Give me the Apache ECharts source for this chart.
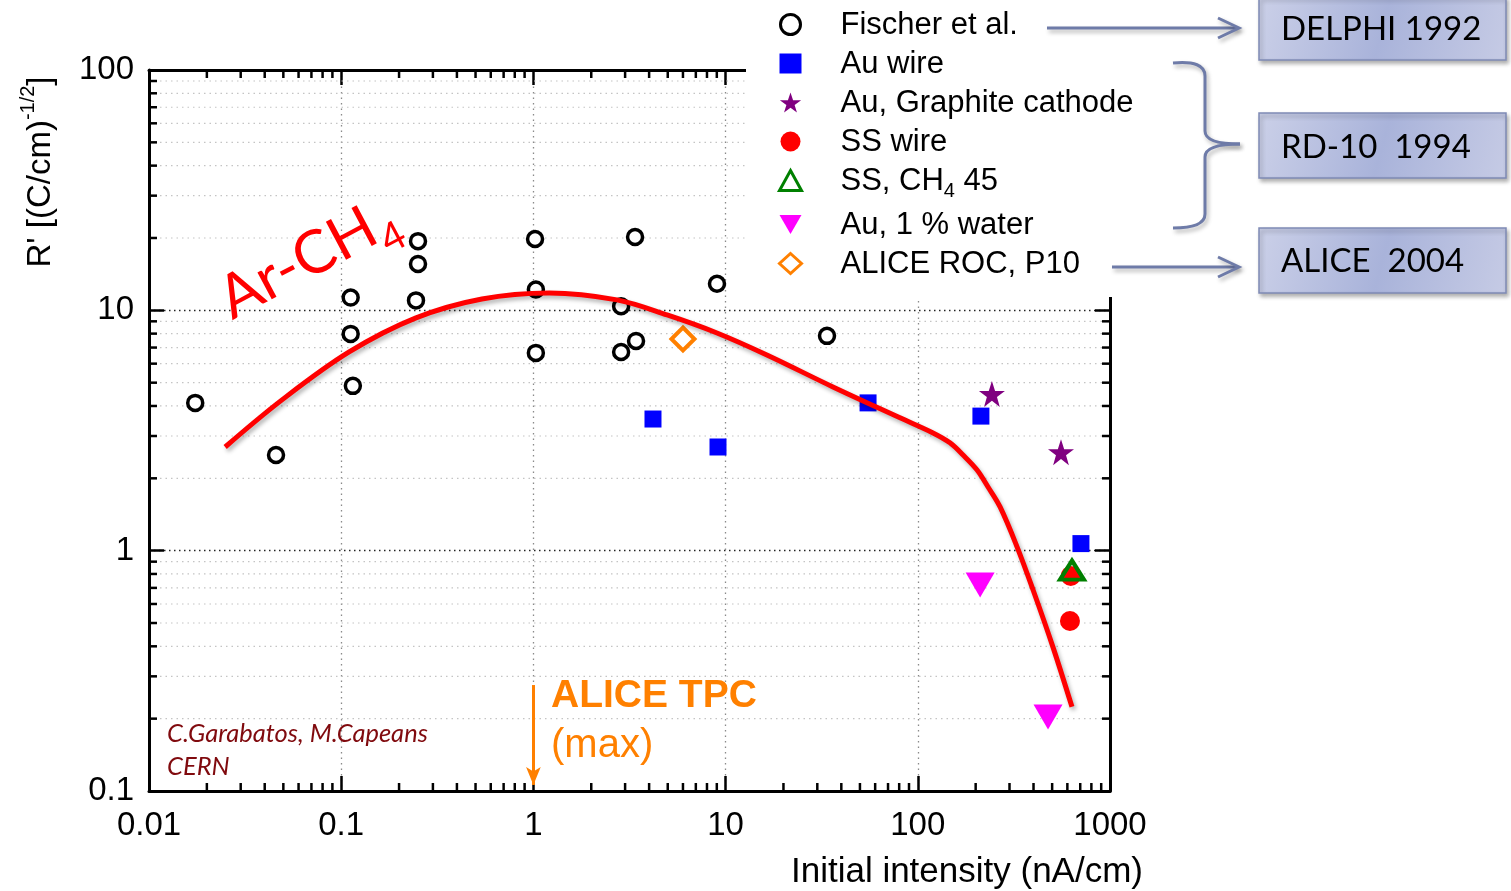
<!DOCTYPE html>
<html><head><meta charset="utf-8">
<script src="https://cdn.jsdelivr.net/npm/echarts@6/dist/echarts.min.js"></script>
<style>html,body{margin:0;padding:0;background:#fff}#c{width:1511px;height:891px}</style>
</head><body><div id="c"></div>
<script>
// ---- data ----
const xTickLabels = ['0.01', '0.1', '1', '10', '100', '1000'];
const yTickLabels = ['0.1', '1', '10', '100'];
const xMinor = [0.02,0.03,0.04,0.05,0.06,0.07,0.08,0.09,
                0.2,0.3,0.4,0.5,0.6,0.7,0.8,0.9,
                2,3,4,5,6,7,8,9,
                20,30,40,50,60,70,80,90,
                200,300,400,500,600,700,800,900];
const yMinor = [0.2,0.3,0.4,0.5,0.6,0.7,0.8,0.9,
                2,3,4,5,6,7,8,9,
                20,30,40,50,60,70,80,90];
const fischer = [[0.0174,4.12],[0.0458,2.50],[0.112,11.3],[0.112,7.98],[0.115,4.85],
                 [0.251,19.4],[0.251,15.6],[0.245,11.0],[1.02,19.8],[1.03,12.2],[1.03,6.65],
                 [3.38,20.2],[2.86,10.4],[2.86,6.71],[3.42,7.46],[9.02,12.9],[33.7,7.83]];
const auWire = [[4.19,3.53],[9.13,2.70],[55.1,4.12],[213,3.63],[706,1.07]];
const auGraphite = [[243,4.49],[556,2.57]];
const ssWire = [[619,0.51],[625,0.785]];
const ssCH4 = [[634,0.83]];
const auWater = [[211,0.72],[476,0.203]];
const aliceRoc = [[6.0,7.6]];
const arCH4Fit = [[0.0249,2.70],[0.0492,4.24],[0.110,6.71],[0.245,9.30],[0.540,11.15],
                  [1.21,11.81],[2.72,11.05],[4.96,9.57],[9.02,8.05],[16.4,6.52],[36.2,4.80],
                  [80.8,3.57],[120,3.09],[147,2.81],[172,2.50],[203,2.17],[232,1.84],
                  [268,1.52],[328,1.04],[398,0.686],[505,0.397],[634,0.224]];
const aliceTpcArrow = [[1, 0.276], [1, 0.106]];
const seriesNames = ['Fischer et al.', 'Au wire', 'Au, Graphite cathode', 'SS wire', 'SS, CH4 45', 'Au, 1 % water', 'ALICE ROC, P10'];

// ---- chart ----
const SANS = 'Liberation Sans, Arial, sans-serif';
const GILL = 'Lato, sans-serif';
const STAR = 'path://M50,0 L61.8,35.1 L98.5,35.1 L68.8,56.8 L79.4,91.2 L50,70 L20.6,91.2 L31.2,56.8 L1.5,35.1 L38.2,35.1 Z';
const DOWN_TRI = 'path://M0,0 L100,0 L50,86 Z';
const chart = echarts.init(document.getElementById('c'), null, {renderer: 'canvas'});

function xLab(v) { return xTickLabels[Math.round(Math.log10(v)) + 2]; }
function yLab(v) { return yTickLabels[Math.round(Math.log10(v)) + 1]; }

const axisLineStyle = {color: '#000', width: 3};
const tickStyle = {color: '#000', width: 2.5};

function renderYMinor(params, api) {
  const cs = params.coordSys;
  const py = api.coord([1, api.value(1)])[1];
  return {type: 'group', children: [
    {type: 'line', shape: {x1: cs.x, y1: py, x2: cs.x + cs.width, y2: py}, style: {stroke: '#c4c4c4', lineWidth: 1.2, lineDash: [1.5, 4]}},
    {type: 'line', shape: {x1: cs.x, y1: py, x2: cs.x + 8, y2: py}, style: {stroke: '#000', lineWidth: 2.5}},
    {type: 'line', shape: {x1: cs.x + cs.width, y1: py, x2: cs.x + cs.width - 8, y2: py}, style: {stroke: '#000', lineWidth: 2.5}}
  ]};
}
function renderXMinor(params, api) {
  const cs = params.coordSys;
  const px = api.coord([api.value(0), 1])[0];
  return {type: 'group', children: [
    {type: 'line', shape: {x1: px, y1: cs.y + cs.height, x2: px, y2: cs.y + cs.height - 8}, style: {stroke: '#000', lineWidth: 2.5}},
    {type: 'line', shape: {x1: px, y1: cs.y, x2: px, y2: cs.y + 8}, style: {stroke: '#000', lineWidth: 2.5}}
  ]};
}

const slate = '#6e7ba8';
const shadow = {shadowColor: 'rgba(0,0,0,0.3)', shadowBlur: 4, shadowOffsetX: 2, shadowOffsetY: 3};
const boxFill = new echarts.graphic.LinearGradient(0, 0, 1, 1, [
  {offset: 0, color: '#cbd0e8'}, {offset: 0.5, color: '#a9b3da'}, {offset: 1, color: '#c6cbe5'}]);

function box(y, h, label, ty) {
  return [
    {type: 'rect', z: 20, shape: {x: 1259, y: y, width: 247, height: h},
     style: Object.assign({fill: boxFill, stroke: '#7f8ab5', lineWidth: 1.5}, shadow)},
    {type: 'text', z: 21, x: 1281, y: ty, style: {text: label, font: '33px ' + GILL, fill: '#000', align: 'left', verticalAlign: 'middle'}}
  ];
}
function stroke() { return Object.assign({stroke: slate, lineWidth: 3, fill: null}, shadow); }

const option = {
  animation: false,
  grid: {left: 149, right: 401, top: 70, bottom: 100, containLabel: false},
  legend: {
    orient: 'vertical', left: 778, top: 9, padding: 0, itemGap: 7.5,
    itemWidth: 22, itemHeight: 20, z: 10, selectedMode: false,
    data: [
      {name: seriesNames[0], itemStyle: {borderWidth: 3}},
      {name: seriesNames[1], itemStyle: {borderWidth: 0}},
      {name: seriesNames[2], itemStyle: {borderWidth: 0}},
      {name: seriesNames[3], itemStyle: {borderWidth: 0}},
      {name: seriesNames[4], itemStyle: {borderWidth: 3}},
      {name: seriesNames[5], icon: DOWN_TRI, itemStyle: {borderWidth: 0}},
      {name: seriesNames[6], itemStyle: {borderWidth: 3}}
    ],
    formatter: function (name) {
      if (name === 'SS, CH4 45') return '{g|}{n|SS, CH}{s|4}{n| 45}';
      return '{g|}{n|' + name + '}';
    },
    textStyle: {
      fontFamily: SANS, fontSize: 31, color: '#000',
      rich: {
        g: {width: 34, lineHeight: 30},
        n: {fontFamily: SANS, fontSize: 31, color: '#000', lineHeight: 30, verticalAlign: 'top'},
        s: {fontFamily: SANS, fontSize: 20, color: '#000', lineHeight: 30, verticalAlign: 'top', padding: [16, 0, 0, 0]}
      }
    }
  },
  xAxis: [
    {type: 'log', logBase: 10, min: 0.01, max: 1000, position: 'bottom',
     axisLine: {show: true, lineStyle: axisLineStyle},
     axisTick: {show: true, inside: true, length: 15, lineStyle: tickStyle},
     axisLabel: {formatter: xLab, fontFamily: SANS, fontSize: 33, color: '#000', margin: 18},
     splitLine: {show: true, lineStyle: {color: '#8a8a8a', width: 1.3, type: [1.5, 4]}}},
    {type: 'log', logBase: 10, min: 0.01, max: 1000, position: 'top',
     axisLine: {show: true, lineStyle: axisLineStyle},
     axisTick: {show: true, inside: true, length: 15, lineStyle: tickStyle},
     axisLabel: {show: false}, splitLine: {show: false}}
  ],
  yAxis: [
    {type: 'log', logBase: 10, min: 0.1, max: 100, position: 'left',
     axisLine: {show: true, lineStyle: axisLineStyle},
     axisTick: {show: true, inside: true, length: 15, lineStyle: tickStyle},
     axisLabel: {formatter: yLab, fontFamily: SANS, fontSize: 33, color: '#000', margin: 15},
     splitLine: {show: true, lineStyle: {color: '#222', width: 1.3, type: [1.5, 3.5]}}},
    {type: 'log', logBase: 10, min: 0.1, max: 100, position: 'right',
     axisLine: {show: true, lineStyle: axisLineStyle},
     axisTick: {show: true, inside: true, length: 15, lineStyle: tickStyle},
     axisLabel: {show: false}, splitLine: {show: false}}
  ],
  series: [
    {type: 'custom', silent: true, z: 1, renderItem: renderYMinor, data: yMinor.map(v => [1, v])},
    {type: 'custom', silent: true, z: 1, renderItem: renderXMinor, data: xMinor.map(v => [v, 1])},
    {name: seriesNames[0], type: 'scatter', z: 2, symbol: 'circle', symbolSize: 15,
     itemStyle: {color: '#fff', borderColor: '#000', borderWidth: 3.5, opacity: 1}, data: fischer},
    {name: seriesNames[1], type: 'scatter', z: 2, symbol: 'rect', symbolSize: 17,
     itemStyle: {color: '#0000ff', opacity: 1}, data: auWire},
    {name: seriesNames[2], type: 'scatter', z: 2, symbol: STAR, symbolSize: 26,
     itemStyle: {color: '#800080', opacity: 1}, data: auGraphite},
    {name: seriesNames[3], type: 'scatter', z: 2, symbol: 'circle', symbolSize: 20,
     itemStyle: {color: '#ff0000', opacity: 1}, data: ssWire},
    {name: seriesNames[4], type: 'scatter', z: 2, symbol: 'triangle', symbolSize: [24, 19],
     itemStyle: {color: 'rgba(255,255,255,0)', borderColor: '#008000', borderWidth: 4, opacity: 1}, data: ssCH4},
    {name: seriesNames[5], type: 'scatter', z: 2, symbol: 'triangle', symbolRotate: 180, symbolSize: [29, 25],
     itemStyle: {color: '#ff00ff', opacity: 1}, data: auWater},
    {name: seriesNames[6], type: 'scatter', z: 2, symbol: 'diamond', symbolSize: 23,
     itemStyle: {color: '#fff', borderColor: '#ff8000', borderWidth: 4, opacity: 1}, data: aliceRoc},
    {name: 'Ar-CH4', type: 'line', z: 3, smooth: 0.35, showSymbol: false, silent: true,
     lineStyle: Object.assign({color: '#ff0000', width: 5}, shadow), data: arCH4Fit},
    {name: 'ALICE TPC', type: 'line', z: 3, showSymbol: false, silent: true,
     lineStyle: {width: 0}, data: [],
     markLine: {silent: true, symbol: ['none', 'arrow'], symbolSize: [11, 18],
       label: {show: false}, lineStyle: {color: '#ff8000', width: 3, type: 'solid'},
       data: [[{coord: aliceTpcArrow[0]}, {coord: aliceTpcArrow[1]}]]}}
  ],
  graphic: [
    {type: 'rect', z: 5, shape: {x: 746, y: 0, width: 380, height: 297}, style: {fill: '#fff'}},
    // axis titles
    {type: 'text', z: 6, x: 38, y: 172, rotation: Math.PI / 2,
     style: {text: "{a|R' [(C/cm)}{b|-1/2}{a|]}", align: 'center', verticalAlign: 'middle',
       rich: {a: {fontFamily: SANS, fontSize: 33, fill: '#000', lineHeight: 39, verticalAlign: 'top', padding: [6, 0, 0, 0]},
              b: {fontFamily: SANS, fontSize: 20, fill: '#000', lineHeight: 39, verticalAlign: 'top'}}}},
    {type: 'text', z: 6, x: 1143, y: 872, style: {text: 'Initial intensity (nA/cm)', font: '35px ' + SANS, fill: '#000', align: 'right', verticalAlign: 'middle'}},
    // Ar-CH4 label
    {type: 'text', z: 6, x: 308, y: 258, rotation: 0.49,
     style: {text: '{a|Ar-CH}{b|4}', align: 'center', verticalAlign: 'middle',
       rich: {a: {fontFamily: GILL, fontSize: 60, fill: '#ff0000', lineHeight: 60, verticalAlign: 'top'},
              b: {fontFamily: GILL, fontSize: 40, fill: '#ff0000', lineHeight: 60, verticalAlign: 'top', padding: [32, 0, 0, 0]}}}},
    // ALICE TPC annotation
    {type: 'text', z: 6, x: 551, y: 696, style: {text: 'ALICE TPC', font: 'bold 39px ' + SANS, fill: '#ff8000', align: 'left', verticalAlign: 'middle'}},
    {type: 'text', z: 6, x: 551, y: 746, style: {text: '(max)', font: '40px ' + SANS, fill: '#ff8000', align: 'left', verticalAlign: 'middle'}},
    // credits
    {type: 'text', z: 6, x: 167, y: 734, style: {text: 'C.Garabatos, M.Capeans', font: 'italic 25.5px ' + GILL, fill: '#800a0e', align: 'left', verticalAlign: 'middle'}},
    {type: 'text', z: 6, x: 167, y: 767, style: {text: 'CERN', font: 'italic 25.5px ' + GILL, fill: '#800a0e', align: 'left', verticalAlign: 'middle'}},
    // arrows & brace
    {type: 'polyline', z: 19, shape: {points: [[1047, 28], [1238, 28]]}, style: stroke()},
    {type: 'polyline', z: 19, shape: {points: [[1218, 18], [1239, 28], [1218, 38]]}, style: stroke()},
    {type: 'polyline', z: 19, shape: {points: [[1112, 267], [1238, 267]]}, style: stroke()},
    {type: 'polyline', z: 19, shape: {points: [[1218, 257], [1239, 267], [1218, 277]]}, style: stroke()},
    {type: 'bezierCurve', z: 19, shape: {x1: 1173, y1: 63, cpx1: 1205, cpy1: 60, x2: 1205, y2: 76}, style: stroke()},
    {type: 'line', z: 19, shape: {x1: 1205, y1: 76, x2: 1205, y2: 131}, style: stroke()},
    {type: 'bezierCurve', z: 19, shape: {x1: 1205, y1: 131, cpx1: 1205, cpy1: 144, x2: 1240, y2: 144}, style: stroke()},
    {type: 'bezierCurve', z: 19, shape: {x1: 1240, y1: 144, cpx1: 1205, cpy1: 144, x2: 1205, y2: 157}, style: stroke()},
    {type: 'line', z: 19, shape: {x1: 1205, y1: 157, x2: 1205, y2: 214}, style: stroke()},
    {type: 'bezierCurve', z: 19, shape: {x1: 1205, y1: 214, cpx1: 1205, cpy1: 228, x2: 1173, y2: 228}, style: stroke()}
  ].concat(box(-3, 63, 'DELPHI 1992', 29))
   .concat(box(113, 65, 'RD-10  1994', 147))
   .concat(box(228, 65, 'ALICE  2004', 261))
};
chart.setOption(option);
</script>
</body></html>
